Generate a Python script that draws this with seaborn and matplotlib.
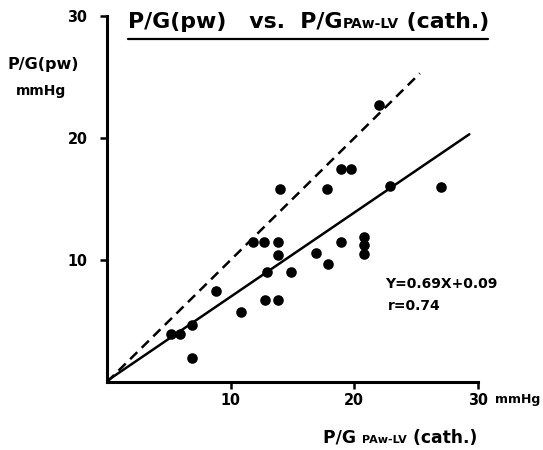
import matplotlib
matplotlib.use("Agg")
import matplotlib.pyplot as plt
import seaborn as sns
import numpy as np
import pandas as pd

# data
cath = [22.0, 18.9, 19.7, 14.0, 17.8, 22.9, 27.0,
        11.8, 12.7, 13.8, 18.9, 20.8, 20.8, 20.8,
        13.8, 16.9, 17.9, 12.9, 14.9, 8.8, 10.8,
        12.8, 13.8, 5.2, 5.9, 6.9, 6.9]
pw = [22.7, 17.5, 17.5, 15.8, 15.8, 16.1, 16.0,
      11.5, 11.5, 11.5, 11.5, 11.85, 11.2, 10.5,
      10.4, 10.55, 9.7, 9.0, 9.0, 7.5, 5.75,
      6.7, 6.7, 3.95, 3.95, 4.65, 2.0]
slope, intercept = 0.69, 0.09
reg_x = [0.0, 29.3]
ident_x = [0.0, 25.3]
xticks = [10, 20, 30]
yticks = [10, 20, 30]

df = pd.DataFrame({"cath": cath, "pw": pw})
reg_df = pd.DataFrame({"x": reg_x, "y": [slope * v + intercept for v in reg_x]})
id_df = pd.DataFrame({"x": ident_x, "y": ident_x})

sns.set_theme(style="white")
plt.rcParams['font.family'] = ['DejaVu Sans']
plt.rcParams['text.color'] = 'black'
plt.rcParams['axes.labelcolor'] = 'black'
plt.rcParams['xtick.color'] = 'black'
plt.rcParams['ytick.color'] = 'black'

W, H = 543, 450
fig = plt.figure(figsize=(W / 100, H / 100), dpi=100)
ax = fig.add_axes([107 / W, (H - 382) / H, (478 - 107) / W, (382 - 16) / H])

sns.lineplot(data=id_df, x="x", y="y", ax=ax, color="black", lw=1.8,
             linestyle=(0, (4, 2.5)))
sns.lineplot(data=reg_df, x="x", y="y", ax=ax, color="black", lw=1.8)
sns.scatterplot(data=df, x="cath", y="pw", ax=ax, color="black", s=58,
                edgecolor="black", linewidth=0, zorder=3)

ax.set_xlim(0, 30)
ax.set_ylim(0, 30)
ax.set_xticks(xticks)
ax.set_yticks(yticks)
ax.set_xlabel("")
ax.set_ylabel("")
for s in ["top", "right"]:
    ax.spines[s].set_visible(False)
for s in ["left", "bottom"]:
    ax.spines[s].set_color("black")
    ax.spines[s].set_linewidth(2.2)
ax.tick_params(axis="both", direction="out", length=5, width=1.8,
               color="black", labelsize=11.5, labelcolor="black")
ax.tick_params(axis="x", bottom=True, pad=3)
ax.tick_params(axis="y", left=True, pad=9)
for lab in ax.get_xticklabels() + ax.get_yticklabels():
    lab.set_fontweight("bold")
    lab.set_fontstretch("condensed")

ax.text(22.5, 8.0, "Y=0.69X+0.09", fontsize=10, fontweight="bold", ha="left", va="center")
ax.text(22.75, 6.2, "r=0.74", fontsize=10, fontweight="bold", ha="left", va="center")

fig.canvas.draw()
renderer = fig.canvas.get_renderer()


def rich(x_px, y_px, parts):
    """parts: list of (text, size)"""
    x = x_px
    for txt, size in parts:
        t = fig.text(x / W, 1 - y_px / H, txt, fontsize=size,
                     fontweight="bold", ha="left", va="baseline")
        bb = t.get_window_extent(renderer=renderer)
        x += bb.width
    return x


# title
rich(128, 28, [("P/G(pw)   vs.  P/G", 15.8), ("PAw-LV", 10), (" (cath.)", 15.8)])
fig.add_artist(plt.Line2D([128 / W, 488 / W], [1 - 39 / H, 1 - 39 / H],
                          color="black", lw=1.6, transform=fig.transFigure))

# y label
fig.text(43.5 / W, 1 - 65 / H, "P/G(pw)", fontsize=11.5, fontweight="bold", ha="center", va="center")
fig.text(41 / W, 1 - 91 / H, "mmHg", fontsize=10, fontweight="bold", ha="center", va="center")

# x unit
fig.text(495 / W, 1 - 399 / H, "mmHg", fontsize=9, fontweight="bold", ha="left", va="center")

# x label
rich(323, 443, [("P/G ", 12.3), ("PAw-LV", 8), (" (cath.)", 12.3)])

fig.savefig("out.png", dpi=100)
